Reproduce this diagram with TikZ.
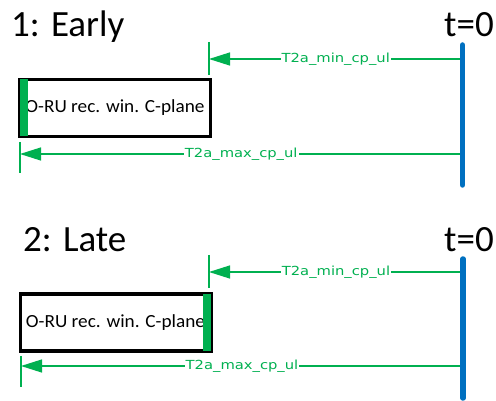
\documentclass[tikz,border=0pt]{standalone}
\usepackage{fontspec}
\setmainfont{Carlito}
\newfontfamily\lblfont{DejaVu Sans}
\usetikzlibrary{arrows.meta, positioning}
\definecolor{oranblue}{HTML}{0070C0}
\definecolor{orangreen}{HTML}{00B050}

\begin{document}
\begin{tikzpicture}[x=1pt, y=1pt,
    title/.style={inner sep=0pt, font=\fontsize{37}{37}\selectfont},
    tzero/.style={line width=5.5pt, color=oranblue, line cap=round},
    tick/.style={line width=1.3pt, color=orangreen},
    win/.style={rectangle, draw=black, line width=3.5pt, fill=white,
                minimum width=190.5pt, minimum height=57pt, inner sep=0pt,
                font=\fontsize{18.5}{18.5}\selectfont},
    bar/.style={fill=orangreen, draw=none},
    arr/.style={-{Triangle[length=21pt, width=13pt]}, line width=1.3pt, color=orangreen},
    lbl/.style={font=\lblfont\fontsize{12.5}{12.5}\selectfont, text=orangreen,
                fill=white, inner sep=1pt, midway}
  ]
    \useasboundingbox (0,0) rectangle (496,-401);

    % 1: Early
    \node[title, anchor=base west] (titleA) at (11,-37) {1: Early};
    \node[title, anchor=base east] (tzeroA) at (494,-37) {t=0};
    \coordinate (zeroAtop) at (462.5,-45);
    \coordinate (zeroAbot) at (462.5,-185);
    \coordinate (zeroAmin) at (462.5,-59);
    \coordinate (zeroAmax) at (462.5,-154);
    \coordinate (minAtop) at (209,-42);
    \coordinate (minAbot) at (209,-75);
    \coordinate (minA) at (209,-59);
    \coordinate (maxAtop) at (20,-142);
    \coordinate (maxAbot) at (20,-173);
    \coordinate (maxA) at (20,-154);

    \node[win] (winA) at (115,-108) {\scalebox{1.04}[1]{O-RU rec. win. C-plane}};
    \fill[bar] ([xshift=2pt,yshift=-1.75pt]winA.north west) rectangle ([xshift=10pt,yshift=1.75pt]winA.south west);

    \draw[tick] (minAtop) -- (minAbot);
    \draw[tick] (maxAtop) -- (maxAbot);
    \draw[arr] (zeroAmin) -- (minA) node[lbl] {\scalebox{1.18}[1]{T2a\_min\_cp\_ul}};
    \draw[arr] (zeroAmax) -- (maxA) node[lbl] {\scalebox{1.18}[1]{T2a\_max\_cp\_ul}};
    \draw[tzero] (zeroAtop) -- (zeroAbot);

    % 2: Late
    \node[title, anchor=base west] (titleB) at (23,-252) {2: Late};
    \node[title, anchor=base east] (tzeroB) at (494,-252) {t=0};
    \coordinate (zeroBtop) at (463,-259);
    \coordinate (zeroBbot) at (463,-398);
    \coordinate (zeroBmin) at (463,-272);
    \coordinate (zeroBmax) at (463,-366);
    \coordinate (minBtop) at (209,-255);
    \coordinate (minBbot) at (209,-288);
    \coordinate (minB) at (209,-272);
    \coordinate (maxBtop) at (21,-356);
    \coordinate (maxBbot) at (21,-387);
    \coordinate (maxB) at (21,-366);

    \node[win] (winB) at (115.5,-322.5) {\scalebox{1.04}[1]{O-RU rec. win. C-plane}};
    \fill[bar] ([xshift=-10pt,yshift=-1.75pt]winB.north east) rectangle ([xshift=-2pt,yshift=1.75pt]winB.south east);

    \draw[tick] (minBtop) -- (minBbot);
    \draw[tick] (maxBtop) -- (maxBbot);
    \draw[arr] (zeroBmin) -- (minB) node[lbl] {\scalebox{1.18}[1]{T2a\_min\_cp\_ul}};
    \draw[arr] (zeroBmax) -- (maxB) node[lbl] {\scalebox{1.18}[1]{T2a\_max\_cp\_ul}};
    \draw[tzero] (zeroBtop) -- (zeroBbot);
  \end{tikzpicture}
\end{document}
